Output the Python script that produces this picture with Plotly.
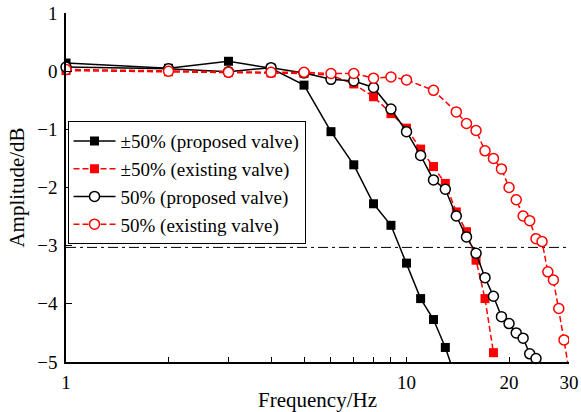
import plotly.graph_objects as go
import numpy as np

# ---- data ----
freq_a = [1, 2, 3, 4, 5, 6, 7, 8, 9, 10, 11, 12, 13, 14]
amp_a = [0.14, 0.05, 0.17, 0.05, -0.24, -1.04, -1.61, -2.28, -2.65, -3.30, -3.91, -4.27, -4.75, -5.30]

freq_b = [1, 2, 3, 4, 5, 6, 7, 8, 9, 10, 11, 12, 13, 14, 15, 16, 17, 18]
amp_b = [0.01, -0.01, -0.02, -0.03, -0.04, -0.07, -0.22, -0.44, -0.73, -0.98, -1.34, -1.64, -1.93,
         -2.42, -2.76, -3.25, -3.91, -4.84]

freq_c = [1, 2, 3, 4, 5, 6, 7, 8, 9, 10, 11, 12, 13, 14, 15, 16, 17, 18, 19, 20, 21, 22, 23, 24]
amp_c = [0.07, 0.04, -0.01, 0.06, -0.03, -0.14, -0.17, -0.28, -0.65, -1.04, -1.45, -1.87, -2.03,
         -2.49, -2.85, -3.13, -3.55, -3.87, -4.22, -4.34, -4.50, -4.59, -4.86, -4.94]

freq_d = [1, 2, 3, 4, 5, 6, 7, 8, 9, 10, 12, 14, 15, 16, 17, 18, 19, 20, 21, 22, 23, 24, 25, 26,
          27, 28, 29, 30]
amp_d = [0.03, 0.0, -0.02, -0.02, -0.02, -0.04, -0.04, -0.12, -0.10, -0.15, -0.33, -0.70, -0.90,
         -1.02, -1.37, -1.50, -1.68, -2.0, -2.21, -2.49, -2.57, -2.88, -2.93, -3.45, -3.59, -4.08,
         -4.62, -5.15]

cutoff_db = -3.03

names = ["\u00b150% (proposed valve)", "\u00b150% (existing valve)",
         "50% (proposed valve)", "50% (existing valve)"]

x_tickvals = [1, 2, 3, 4, 5, 6, 7, 8, 9, 10, 20, 30]
x_ticktext = ["1", "", "", "", "", "", "", "", "", "10", "20", "30"]
y_tickvals = [1, 0, -1, -2, -3, -4, -5]

FONT = "Liberation Serif"

fig = go.Figure()
fig.add_trace(go.Scatter(
    x=freq_a, y=amp_a, name=names[0], mode="lines+markers",
    line=dict(color="black", width=1.5),
    marker=dict(symbol="square", size=9, color="black"),
    cliponaxis=True))
fig.add_trace(go.Scatter(
    x=freq_b, y=amp_b, name=names[1], mode="lines+markers",
    line=dict(color="red", width=1.5, dash="6px,3px"),
    marker=dict(symbol="square", size=9, color="red"),
    cliponaxis=False))
fig.add_trace(go.Scatter(
    x=freq_c, y=amp_c, name=names[2], mode="lines+markers",
    line=dict(color="black", width=1.5),
    marker=dict(symbol="circle", size=10, color="white", line=dict(color="black", width=1.5)),
    cliponaxis=False))
fig.add_trace(go.Scatter(
    x=freq_d, y=amp_d, name=names[3], mode="lines+markers",
    line=dict(color="red", width=1.5, dash="6px,3px"),
    marker=dict(symbol="circle", size=10, color="white", line=dict(color="red", width=1.5)),
    cliponaxis=True))

fig.add_shape(type="line", xref="paper", x0=0, x1=1, yref="y", y0=cutoff_db, y1=cutoff_db,
              line=dict(color="black", width=1, dash="10px,4px,3px,4px"), layer="below")

fig.update_layout(
    width=581, height=412,
    margin=dict(l=66, r=12, t=13, b=50, autoexpand=False),
    paper_bgcolor="white", plot_bgcolor="white",
    font=dict(family=FONT, size=19, color="black"),
    showlegend=True,
    legend=dict(x=0.003, y=0.69, xanchor="left", yanchor="top",
                bgcolor="white", bordercolor="black", borderwidth=1,
                font=dict(family=FONT, size=19, color="black"),
                itemwidth=42, tracegroupgap=0),
)
fig.update_xaxes(
    type="log", range=[0, np.log10(30)],
    tickvals=x_tickvals, ticktext=x_ticktext,
    ticks="inside", ticklen=5, tickwidth=1, tickcolor="black",
    showline=True, linecolor="black", linewidth=1.5,
    showgrid=False, zeroline=False, mirror=False, automargin=False,
    ticklabelstandoff=2, ticklabeloverflow="allow",
    tickfont=dict(family=FONT, size=19, color="black"),
    title=dict(text="Frequency/Hz", font=dict(family=FONT, size=21, color="black"), standoff=2),
)
fig.update_yaxes(
    range=[-5, 1], tickvals=y_tickvals,
    ticks="inside", ticklen=6, tickwidth=1, tickcolor="black",
    showline=True, linecolor="black", linewidth=1.5,
    showgrid=False, zeroline=False, mirror=False, automargin=False,
    ticklabelstandoff=3, ticklabeloverflow="allow",
    tickfont=dict(family=FONT, size=19, color="black"),
    title=dict(text="Amplitude/dB", font=dict(family=FONT, size=21, color="black"), standoff=7),
)

fig.write_html("out.html", config={"displayModeBar": False},
               post_script="document.body.style.margin='0px';")
